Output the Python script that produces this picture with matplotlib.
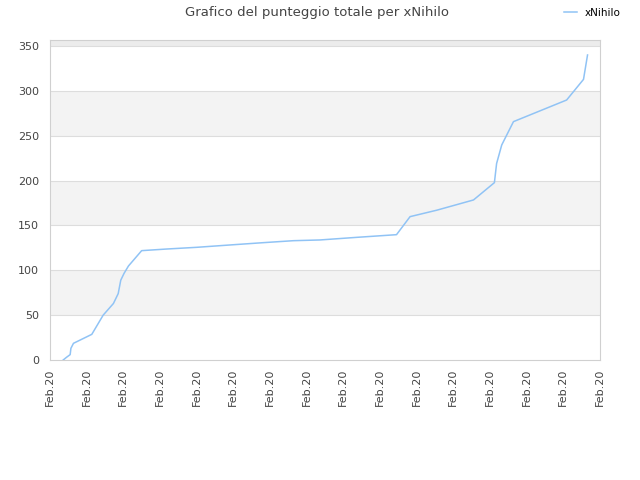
import matplotlib
matplotlib.use("Agg")
import matplotlib.pyplot as plt

# punteggio totale di xNihilo
giorni = [0.36, 0.45, 0.55, 0.57, 0.64, 0.91, 1.14, 1.45, 1.73, 1.86, 1.93, 2.02,
          2.14, 2.5, 3.18, 4.0, 4.9, 5.82, 6.64, 7.36, 8.36, 9.45, 9.82, 10.55,
          11.55, 12.12, 12.18, 12.32, 12.64, 14.09, 14.55, 14.66]
punti = [0, 3, 6, 13, 18.6, 24, 28.6, 50, 63, 74, 89, 96.6,
         104.8, 121.9, 123.7, 125.6, 128.2, 130.8, 133, 133.8, 136.7, 139.7, 159.8, 167,
         178.4, 197.7, 219, 239.7, 265.7, 289.8, 312.8, 340]
etichette = ["Feb.20"] * 16

fig = plt.figure(figsize=(6.4, 4.8), dpi=100)
ax = fig.add_axes([50 / 640, 120 / 480, 550 / 640, 320 / 480])

# bande alternate
for i in range(0, 8):
    lo = i * 50
    if i == 7:
        ax.axhspan(lo, 400, color="#ececec", lw=0, zorder=0)
    elif i % 2 == 1:
        ax.axhspan(lo, lo + 50, color="#f3f3f3", lw=0, zorder=0)
for y in range(50, 351, 50):
    ax.axhline(y, color="#dddddd", lw=0.8, zorder=1)

ax.plot(giorni, punti, color="#90c3f5", lw=1.1, label="xNihilo", zorder=3)

ax.set_xlim(0, 15)
ax.set_ylim(0, 356.7)
ax.set_xticks(range(16))
ax.set_xticklabels(etichette, rotation=90, fontsize=8, color="#444444")
ax.set_yticks(range(0, 351, 50))
ax.tick_params(axis="y", labelsize=8, colors="#444444", length=0, pad=8)
ax.tick_params(axis="x", length=0, pad=6)
for s in ax.spines.values():
    s.set_color("#d0d0d0")
    s.set_linewidth(0.8)

fig.text(0.496, 0.988, "Grafico del punteggio totale per xNihilo", ha="center", va="top",
         fontsize=9.5, color="#444444")
fig.legend(loc="upper right", bbox_to_anchor=(0.985, 1.003), frameon=False, fontsize=7.5,
           handlelength=1.2, handletextpad=0.8)

fig.savefig("out.png", dpi=100)
